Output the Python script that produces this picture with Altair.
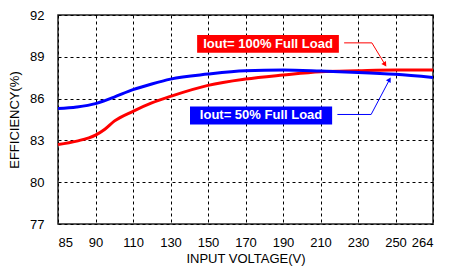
import altair as alt
import pandas as pd

x_labels = ["85", "90", "110", "130", "150", "170", "190", "210", "230", "250", "264"]

# positions along the (evenly spaced) voltage axis, as label index
blue_pos = [0, 0.5, 1, 1.25, 1.5, 2, 2.5, 3, 4, 5, 6, 7, 8, 9, 10]
blue_eff = [85.29, 85.4, 85.64, 85.86, 86.11, 86.64, 87.05, 87.4, 87.76, 88.0, 88.05, 87.98, 87.88, 87.74, 87.52]

red_pos = [0, 0.5, 1, 1.25, 1.5, 2, 2.5, 3, 4, 5, 6, 7, 8, 9, 10]
red_eff = [82.71, 82.95, 83.38, 83.8, 84.38, 85.09, 85.69, 86.16, 86.95, 87.4, 87.69, 87.93, 88.0, 88.05, 88.05]

series_names = ["Iout= 100% Full Load", "Iout= 50% Full Load"]
series_colors = ["#ff0000", "#0000ff"]

rows = []
for p, v in zip(red_pos, red_eff):
    rows.append({"pos": p, "eff": v, "series": series_names[0]})
for p, v in zip(blue_pos, blue_eff):
    rows.append({"pos": p, "eff": v, "series": series_names[1]})
df = pd.DataFrame(rows)

label_arr = "[" + ",".join("'" + s + "'" for s in x_labels) + "]"

xscale = alt.Scale(domain=[0, 10], nice=False, zero=False)
yscale = alt.Scale(domain=[77, 92], nice=False, zero=False)
color_scale = alt.Scale(domain=series_names, range=series_colors)

xaxis = alt.Axis(values=list(range(11)), labelExpr=label_arr + "[datum.value]",
                 title="INPUT VOLTAGE(V)", grid=True, gridDash=[3, 3], gridColor="#000000",
                 gridOpacity=1, gridWidth=1, ticks=False, labelPadding=12, labelOverlap=False,
                 labelFont="Liberation Sans", labelFontSize=13, labelColor="#000000",
                 titleFont="Liberation Sans", titleFontSize=13, titleFontWeight="normal",
                 titleColor="#000000", titlePadding=3, domain=False)
yaxis = alt.Axis(values=[77, 80, 83, 86, 89, 92], title="EFFICIENCY(%)", grid=True,
                 gridDash=[3, 3], gridColor="#000000", gridOpacity=1, gridWidth=1,
                 ticks=False, labelPadding=14, labelOverlap=False, labelFont="Liberation Sans",
                 labelFontSize=13, labelColor="#000000", titleFont="Liberation Sans",
                 titleFontSize=13, titleFontWeight="normal", titleColor="#000000",
                 titlePadding=8, domain=False)


def X(field):
    return alt.X(field, scale=xscale, axis=xaxis)


def Y(field):
    return alt.Y(field, scale=yscale, axis=yaxis)


lines = alt.Chart(df).mark_line(strokeWidth=3, interpolate="monotone").encode(
    x=X("pos:Q"), y=Y("eff:Q"),
    color=alt.Color("series:N", scale=color_scale, legend=None),
)

# annotation boxes (in data coordinates)
box_df = pd.DataFrame({
    "series": series_names,
    "x1": [3.71, 3.52], "x2": [7.49, 7.31],
    "y1": [90.57, 85.43], "y2": [89.29, 84.14],
    "tx": [5.6, 5.415], "ty": [89.93, 84.79],
})
boxes = alt.Chart(box_df).mark_rect().encode(
    x=X("x1:Q"), x2="x2:Q", y=Y("y1:Q"), y2="y2:Q",
    color=alt.Color("series:N", scale=color_scale, legend=None),
)
texts = alt.Chart(box_df).mark_text(color="white", fontWeight="bold", fontSize=13,
                                    font="Liberation Sans", baseline="middle", align="center").encode(
    x=X("tx:Q"), y=Y("ty:Q"), text="series:N",
)

# arrow leader lines
arrow_df = pd.DataFrame({
    "series": [series_names[0]] * 3 + [series_names[1]] * 3,
    "order": [0, 1, 2, 0, 1, 2],
    "ax": [7.63, 8.37, 8.72, 7.45, 8.35, 8.84],
    "ay": [90.0, 90.0, 88.45, 84.86, 84.86, 87.36],
})
leaders = alt.Chart(arrow_df).mark_line(strokeWidth=1).encode(
    x=X("ax:Q"), y=Y("ay:Q"),
    color=alt.Color("series:N", scale=color_scale, legend=None),
    order="order:Q", detail="series:N",
)
head_df = pd.DataFrame({
    "series": series_names,
    "hx": [8.72, 8.84], "hy": [88.45, 87.36], "ang": [146, 31],
})
heads = alt.Chart(head_df).mark_point(shape="triangle-up", filled=True, size=30, opacity=1).encode(
    x=X("hx:Q"), y=Y("hy:Q"),
    color=alt.Color("series:N", scale=color_scale, legend=None),
    angle=alt.Angle("ang:Q", scale=None),
)

chart = alt.layer(lines, leaders, heads, boxes, texts).properties(
    width=375, height=209,
    autosize=alt.AutoSizeParams(type="none"),
    padding={"left": 50, "top": 7, "right": 10, "bottom": 44},
).configure(background="white").configure_view(stroke="#222222", strokeWidth=1.5)

chart.save("out.html", embed_options={"renderer": "svg", "actions": False})
